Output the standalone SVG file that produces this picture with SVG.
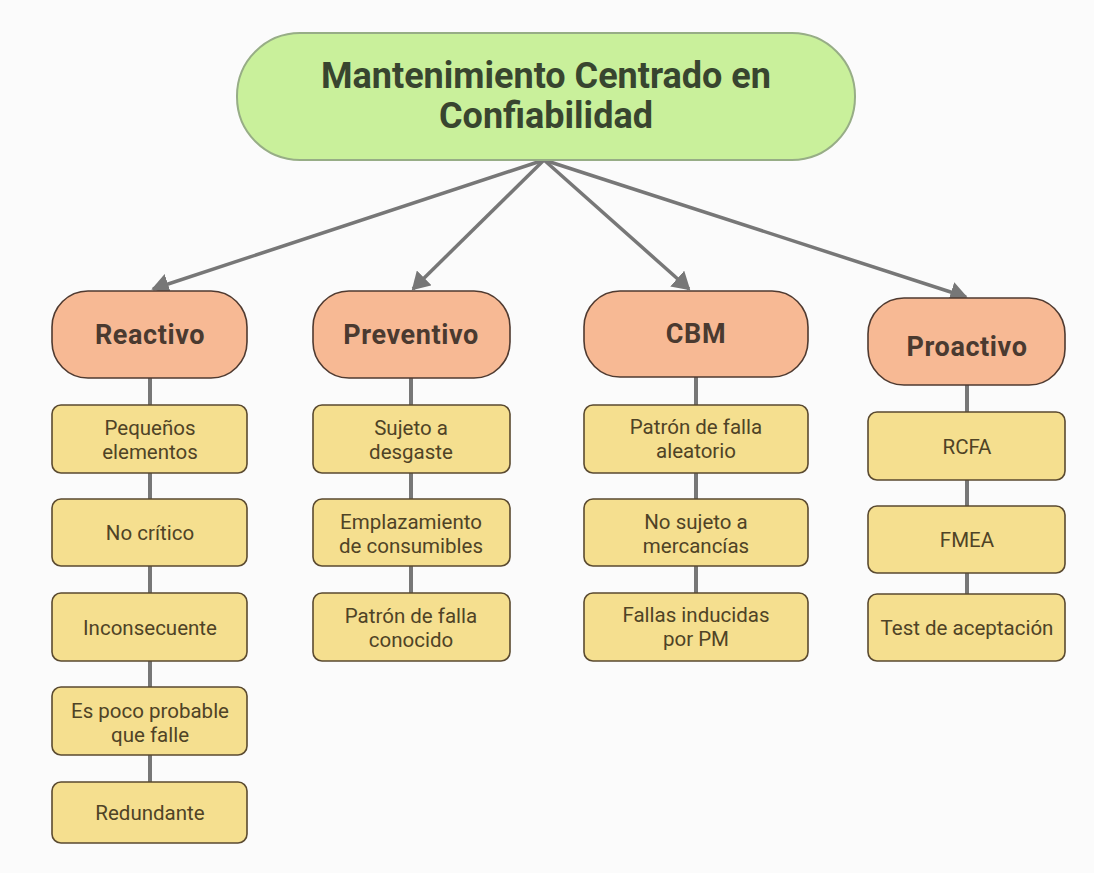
<svg xmlns="http://www.w3.org/2000/svg" width="1094" height="873" viewBox="0 0 1094 873">
  <style>
    .root { fill: #c9f09b; stroke: #97ad86; stroke-width: 2; }
    .cat { fill: #f7b994; stroke: #4f3a30; stroke-width: 1.6; }
    .item { fill: #f5df8f; stroke: #5a4a30; stroke-width: 1.6; }
    .t-root { font-family: Roboto, "Liberation Sans", sans-serif; font-weight: bold; font-size: 36px; fill: #38452f; text-anchor: middle; }
    .t-cat { font-family: Roboto, "Liberation Sans", sans-serif; font-weight: bold; font-size: 27px; letter-spacing: 0.6px; fill: #4a3a30; text-anchor: middle; }
    .t-item { font-family: Roboto, "Liberation Sans", sans-serif; font-size: 20.5px; fill: #4f4326; text-anchor: middle; }
    .conn { stroke: #777777; stroke-width: 4; fill: none; }
    .arrow { stroke: #777777; stroke-width: 3.5; fill: none; marker-end: url(#head); }
  </style>
  <defs>
    <marker id="head" markerWidth="6" markerHeight="6" refX="4.5" refY="3" orient="auto" markerUnits="strokeWidth">
      <path d="M0,0 L5,3 L0,6 Z" fill="#777777"/>
    </marker>
  </defs>
  <rect width="1094" height="873" fill="#fbfbfb"/>

  <g id="connectors">
    <line class="arrow" x1="544" y1="160" x2="153" y2="289"/>
    <line class="arrow" x1="544" y1="160" x2="413" y2="289"/>
    <line class="arrow" x1="544" y1="160" x2="689" y2="289"/>
    <line class="arrow" x1="544" y1="160" x2="966" y2="297"/>
    <line class="conn" x1="150" y1="378" x2="150" y2="782"/>
    <line class="conn" x1="411" y1="378" x2="411" y2="593"/>
    <line class="conn" x1="696" y1="377" x2="696" y2="593"/>
    <line class="conn" x1="967" y1="385" x2="967" y2="594"/>
  </g>

  <g id="root">
    <rect class="root" x="237" y="33" width="618" height="127" rx="63" ry="63"/>
    <text class="t-root" x="546" y="88">Mantenimiento Centrado en</text>
    <text class="t-root" x="546" y="128">Confiabilidad</text>
  </g>

  <g id="reactivo">
    <rect class="cat" x="52" y="291" width="195" height="87" rx="36"/>
    <text class="t-cat" x="150" y="344">Reactivo</text>
  </g>
  <g id="preventivo">
    <rect class="cat" x="313" y="291" width="197" height="87" rx="36"/>
    <text class="t-cat" x="411" y="344">Preventivo</text>
  </g>
  <g id="cbm">
    <rect class="cat" x="584" y="291" width="224" height="86" rx="36"/>
    <text class="t-cat" x="696" y="343">CBM</text>
  </g>
  <g id="proactivo">
    <rect class="cat" x="868" y="298" width="197" height="87" rx="36"/>
    <text class="t-cat" x="967" y="356">Proactivo</text>
  </g>

  <g id="pequenos-elementos">
    <rect class="item" x="52" y="405" width="195" height="68" rx="9"/>
    <text class="t-item" x="150" y="435">Pequeños</text>
    <text class="t-item" x="150" y="459">elementos</text>
  </g>
  <g id="no-critico">
    <rect class="item" x="52" y="499" width="195" height="67" rx="9"/>
    <text class="t-item" x="150" y="540">No crítico</text>
  </g>
  <g id="inconsecuente">
    <rect class="item" x="52" y="593" width="195" height="68" rx="9"/>
    <text class="t-item" x="150" y="635">Inconsecuente</text>
  </g>
  <g id="poco-probable">
    <rect class="item" x="52" y="687" width="195" height="68" rx="9"/>
    <text class="t-item" x="150" y="718">Es poco probable</text>
    <text class="t-item" x="150" y="742">que falle</text>
  </g>
  <g id="redundante">
    <rect class="item" x="52" y="782" width="195" height="61" rx="9"/>
    <text class="t-item" x="150" y="820">Redundante</text>
  </g>

  <g id="sujeto-desgaste">
    <rect class="item" x="313" y="405" width="197" height="68" rx="9"/>
    <text class="t-item" x="411" y="435">Sujeto a</text>
    <text class="t-item" x="411" y="459">desgaste</text>
  </g>
  <g id="emplazamiento">
    <rect class="item" x="313" y="499" width="197" height="67" rx="9"/>
    <text class="t-item" x="411" y="529">Emplazamiento</text>
    <text class="t-item" x="411" y="553">de consumibles</text>
  </g>
  <g id="patron-conocido">
    <rect class="item" x="313" y="593" width="197" height="68" rx="9"/>
    <text class="t-item" x="411" y="623">Patrón de falla</text>
    <text class="t-item" x="411" y="647">conocido</text>
  </g>

  <g id="patron-aleatorio">
    <rect class="item" x="584" y="405" width="224" height="68" rx="9"/>
    <text class="t-item" x="696" y="434">Patrón de falla</text>
    <text class="t-item" x="696" y="458">aleatorio</text>
  </g>
  <g id="no-sujeto">
    <rect class="item" x="584" y="499" width="224" height="67" rx="9"/>
    <text class="t-item" x="696" y="529">No sujeto a</text>
    <text class="t-item" x="696" y="553">mercancías</text>
  </g>
  <g id="fallas-pm">
    <rect class="item" x="584" y="593" width="224" height="68" rx="9"/>
    <text class="t-item" x="696" y="622">Fallas inducidas</text>
    <text class="t-item" x="696" y="646">por PM</text>
  </g>

  <g id="rcfa">
    <rect class="item" x="868" y="412" width="197" height="68" rx="9"/>
    <text class="t-item" x="967" y="454">RCFA</text>
  </g>
  <g id="fmea">
    <rect class="item" x="868" y="506" width="197" height="67" rx="9"/>
    <text class="t-item" x="967" y="547">FMEA</text>
  </g>
  <g id="test-aceptacion">
    <rect class="item" x="868" y="594" width="197" height="67" rx="9"/>
    <text class="t-item" x="967" y="635">Test de aceptación</text>
  </g>
</svg>
